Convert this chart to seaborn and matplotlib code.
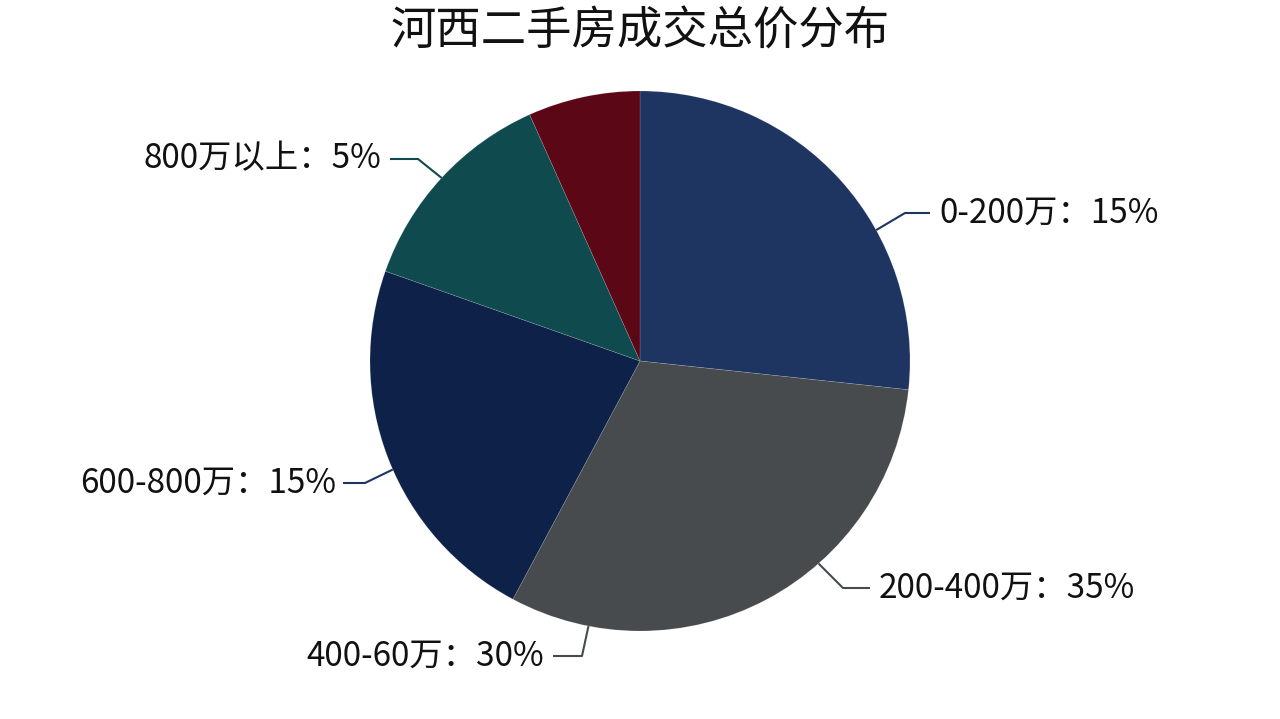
import numpy as np
import matplotlib
matplotlib.use("Agg")
import matplotlib.pyplot as plt
import seaborn as sns

# ---- data ----
categories = ["0-200万", "200-400万", "400-60万", "600-800万", "800万以上"]
label_pcts = ["15%", "35%", "30%", "15%", "5%"]
shares = [26.7, 31.1, 22.6, 12.9, 6.7]
colors = ["#1e3461", "#474b4e", "#0e2249", "#0e4a4e", "#5b0716"]
title = "河西二手房成交总价分布"

sns.set_theme(style="white")
plt.rcParams['font.family'] = ['Noto Sans CJK SC', 'DejaVu Sans']

W, H = 1280, 719
fig = plt.figure(figsize=(W / 100, H / 100), dpi=100)
ax = fig.add_axes([0, 0, 1, 1])

cx, cy, R = 640, 361, 270

def Y(y):
    return H - y

ax.pie(shares, colors=colors, startangle=90, counterclock=False,
       center=(cx, Y(cy)), radius=R, frame=True,
       wedgeprops=dict(linewidth=0.5, edgecolor="#ffffff30"))
ax.set_xlim(0, W)
ax.set_ylim(0, H)
ax.set_aspect("auto")
ax.axis("off")

# leader layout: edge angle (deg), elbow px, end px, text x, ha
layout = [
    (29.0, (905, 213), (930, 213), 939, "left"),
    (-48.6, (843, 588), (870, 588), 879, "left"),
    (-101.0, (582, 656), (553, 656), 544, "right"),
    (-156.3, (365, 483), (343, 483), 336, "right"),
    (137.3, (418, 159), (390, 159), 381, "right"),
]
line_colors = ["#1e3461", "#474b4e", "#474b4e", "#1e3461", "#0e4a4e"]

for cat, pct, (ang, elbow, end, tx, ha), lc in zip(categories, label_pcts, layout, line_colors):
    a = np.deg2rad(ang)
    sx = cx + R * np.cos(a)
    sy = Y(cy) + R * np.sin(a)
    ax.plot([sx, elbow[0], end[0]], [sy, Y(elbow[1]), Y(end[1])],
            color=lc, lw=1.5, solid_capstyle="butt")
    ax.text(tx, Y(end[1]), f"{cat}：{pct}", ha=ha, va="center",
            fontsize=24, color="#111111")

ax.text(W / 2, Y(32), title, ha="center", va="center", fontsize=32.7, color="#111111")

fig.savefig("out.png", dpi=100, facecolor="white")
